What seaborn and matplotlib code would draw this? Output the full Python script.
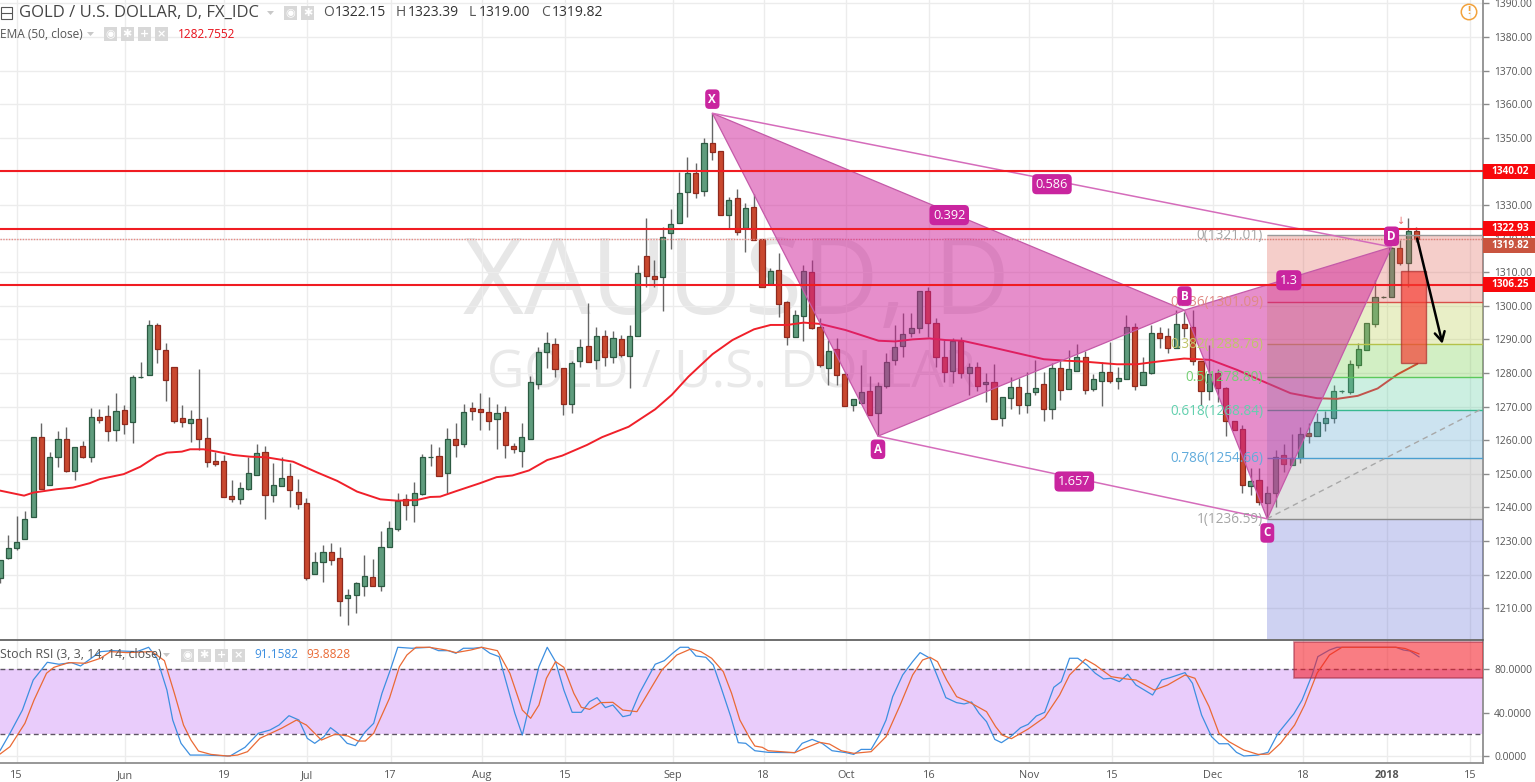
import numpy as np
import pandas as pd
import seaborn as sns
import matplotlib
matplotlib.use('Agg')
import matplotlib.pyplot as plt
from matplotlib.patches import Rectangle, Polygon

# daily candles
candle_open = [1218.9,1224.8,1227.8,1230.6,1237,1260.9,1246.7,1255.1,1260.3,1250.9,
    1258.3,1255.1,1266.8,1267.1,1262.9,1268.9,1265.5,1278.7,1279.4,1294.2,
    1286.8,1281.7,1266.5,1265.2,1266.2,1260.6,1253.8,1253.7,1243.5,1242.5,
    1245.4,1249.7,1256.6,1243.8,1246.5,1249.2,1244.7,1241.2,1220.2,1223.8,
    1226.6,1224.9,1212.9,1214,1216.7,1219.2,1216.7,1228.3,1233.5,1242.4,
    1240.8,1244,1255,1255.3,1250.2,1260.3,1258.9,1269.5,1269.2,1268.5,
    1266.4,1268.3,1258.4,1256.9,1260.5,1276.8,1286.3,1288.7,1281.5,1270.8,
    1283.7,1288,1284,1291.1,1284.7,1290.1,1285.1,1291,1314.7,1309,
    1308.7,1321.6,1324.7,1334,1339.4,1334.3,1348.6,1346.2,1327.1,1332,
    1323.2,1329.3,1319.8,1306.5,1310.8,1301.1,1290.6,1297,1310.2,1293.8,
    1281.6,1287,1279.7,1270.6,1271.2,1274.7,1268,1276.2,1283.9,1287.9,
    1292,1293.3,1304.5,1294.8,1284.9,1280.7,1289.6,1279.9,1281.9,1276.6,
    1277.2,1266.7,1272.6,1275.8,1270.6,1274.3,1276.6,1269.3,1281.6,1275.2,
    1280.6,1284.9,1275.2,1277.7,1280.2,1277.7,1278.3,1293.6,1276.5,1280.1,
    1291.8,1291,1287.5,1294.5,1293.6,1283.6,1274.5,1279.9,1275.4,1265.7,
    1263.2,1246.5,1248.2,1241.4,1244.2,1255.5,1252.6,1254.8,1262,1261.3,
    1265,1266.5,1274.5,1274.3,1282.4,1286.9,1294.6,1302.6,1302.5,1317.1,
    1312.7,1322.15]
candle_high = [1224.4,1231.8,1237.3,1239,1260.9,1265,1256.4,1262.6,1263.9,1257.9,
    1259.9,1269.5,1269.2,1270.4,1274,1270.5,1279.4,1283.4,1295.8,1294.8,
    1288.9,1281.7,1270.4,1269,1281.1,1266.8,1256.6,1255.6,1248.2,1247.7,
    1254.9,1258.9,1258.3,1253.1,1254.9,1253.1,1248.4,1242.7,1226.7,1228.7,
    1229.3,1228.3,1215.6,1217.9,1225.9,1224.6,1233,1236.1,1244.4,1244,
    1247.5,1255.8,1258.9,1258.1,1263.6,1265.2,1270.8,1271.4,1274,1272.8,
    1270.8,1270.2,1259.1,1265,1279,1287.8,1292.1,1290.3,1281.5,1283.7,
    1290,1300.7,1293.8,1292.8,1292.6,1291.3,1294.3,1312.1,1326,1313.6,
    1323.5,1328.7,1339.9,1344.2,1342.4,1349.8,1357.3,1346.2,1332.3,1334.7,
    1330.7,1333.3,1319.8,1311.2,1315.8,1301.5,1298.7,1312.1,1313.6,1296.3,
    1289.8,1290.3,1280.4,1272.2,1282.4,1279.1,1277.4,1285.9,1294.3,1297.8,
    1297.8,1304.5,1305.7,1296.3,1289.8,1290.3,1290.8,1283.1,1283.4,1280.1,
    1282.7,1272.8,1278.9,1278.4,1280.4,1283.9,1280.4,1282.9,1283.9,1286.9,
    1288.5,1286.4,1279.7,1283.4,1289.3,1281.9,1297.3,1294.8,1284.9,1294.3,
    1293.8,1293.3,1298.8,1298.3,1298.8,1283.6,1288.3,1281.1,1275.9,1265.7,
    1264.5,1251.6,1251.6,1246.4,1257.1,1258.9,1261.9,1263.8,1265.2,1268,
    1268.8,1276.4,1275,1283.9,1288.8,1294.8,1307.7,1302.9,1317.6,1319.6,
    1326,1323.39]
candle_low = [1217.4,1224.7,1227.3,1230.6,1237,1245.4,1246.7,1252.1,1250.5,1248.2,
    1254.6,1253.6,1265.2,1259.9,1259.9,1261.9,1259.3,1278.4,1279.4,1283.1,
    1271.8,1265,1264,1259.6,1257.1,1252,1252.2,1243.2,1241.7,1241,
    1245.2,1249.7,1236.6,1241.7,1246.5,1240.2,1239.6,1218.4,1220.2,1217.9,
    1222.9,1207.7,1205,1208.5,1213.7,1216.7,1215.2,1228.3,1233.1,1236.3,
    1235.8,1243.7,1252.4,1249.4,1244.4,1254.9,1257.9,1266,1262.9,1263.1,
    1257.3,1254.6,1256.1,1251.9,1260.5,1275.2,1281.6,1278.7,1267.5,1268.2,
    1281.9,1283.4,1281.1,1282.2,1282.9,1284.7,1275.4,1291,1305.5,1305.5,
    1298.5,1316.8,1324.7,1326.5,1332,1332.8,1343.4,1327,1323,1321,
    1316.1,1319.6,1305.5,1306.5,1296.6,1288.3,1290.6,1289.6,1293,1281.9,
    1276.4,1276.4,1270.2,1268.8,1271.2,1267.5,1261.3,1275.5,1282.4,1284.9,
    1290.6,1291.8,1290.8,1281.7,1277.4,1276.9,1278.4,1273.5,1274.5,1271.5,
    1266.4,1264.1,1269.2,1267.8,1268,1273.5,1265.7,1266.3,1272,1275.2,
    1280.6,1273.8,1274.5,1270.2,1277.1,1275.1,1278.3,1274.8,1276.5,1279.7,
    1287.4,1286.1,1287.8,1290.8,1282.4,1270.5,1272,1271.5,1261.3,1263,
    1244.2,1243.7,1240.7,1236.8,1240.2,1250.6,1252.6,1253.1,1259.3,1261.3,
    1262.8,1265,1274.1,1273.8,1281.4,1286.9,1293.8,1302.3,1302.5,1312.2,
    1305.7,1319.0]
candle_close = [1224.4,1227.8,1229.6,1236.5,1260.9,1245.4,1254.9,1260.3,1250.7,1257.9,
    1255.1,1266.8,1266,1262.6,1268.6,1264.8,1278.7,1278.9,1294.2,1287,
    1278,1265.8,1265.5,1266.2,1260.5,1253.6,1253,1243.2,1242.5,1245.9,
    1250.2,1256.3,1243.8,1246.6,1248.7,1245.2,1241,1219.1,1223.7,1226.6,
    1224.4,1212.2,1213.9,1217.4,1219.7,1216.7,1228.3,1233.8,1242,1240.8,
    1244.2,1254.9,1255,1249.4,1260.3,1258.6,1268.5,1268.8,1268.5,1265.8,
    1268,1258.5,1257.3,1260.9,1277.2,1286.2,1288.9,1281.3,1270.8,1282.9,
    1287.7,1283.4,1290.9,1284.7,1290.3,1285.4,1291.1,1309.7,1309,1308.1,
    1320.6,1324.3,1333.5,1339.4,1333.7,1348.6,1345.9,1327,1331.5,1322,
    1329,1319.6,1305.7,1310.5,1300.5,1290.6,1297.2,1310.5,1293.3,1282.3,
    1286.6,1279.4,1270.2,1272.2,1274.2,1267.5,1276.2,1283.3,1287.8,1291.5,
    1293.3,1304.5,1294.8,1284.7,1280.4,1289.6,1279.9,1281.9,1276,1277.2,
    1266.4,1272.8,1275.8,1270.5,1274,1275.4,1269.3,1281.4,1274.9,1281.1,
    1284.9,1274.9,1278.1,1280.2,1277.6,1278.4,1293.6,1276.2,1280.2,1291.8,
    1290.5,1287.4,1294.5,1293.5,1283.6,1274.5,1279.7,1275.6,1265.8,1263,
    1246.7,1248,1241.7,1244.2,1255.1,1252.8,1254.8,1261.8,1261.3,1265.3,
    1266.5,1274.5,1274.6,1282.6,1287.1,1294.8,1302.5,1302.7,1317.1,1312.7,
    1322.3,1319.82]

# EMA 50, sampled along the curve
ema_bar = [0,2.9,4,6.8,8.8,10.8,12,14.9,16.9,18.9,20.1,21.9,22.9,24.5,26.1,28.1,30.1,32.1,
    35.3,38.2,40.6,43,45.8,47.8,50.2,51.8,53,55,57.8,59.8,61.7,63.7,65.9,67.7,70.7,72.5,
    75.7,78.9,80.9,82.9,85.8,88.2,90.8,92.8,94.8,96.8,98.8,101.8,105.8,107.8,109.9,111.9,
    113.9,115.9,119.9,123.4,125.7,128.1,130.5,134.5,136.9,139.4,142.6,145.8,149,152.2,
    155.4,158.6,161,163.5,165.9,168.3,170.7]
ema_val = [1245,1243.5,1244.4,1245.4,1245.9,1247.2,1248.4,1249.9,1252.1,1255.3,1256.3,1256.6,
    1257.3,1257.3,1256.6,1255.6,1255.1,1254.9,1253.6,1250.4,1247.9,1244.7,1242.4,1242,
    1242.2,1243.1,1243.2,1244.9,1247.2,1249,1249.5,1251,1254.1,1255.4,1258.6,1260.9,
    1264,1269.2,1273.5,1278.9,1285.6,1289.8,1293,1294.3,1294.3,1295,1294.6,1292.8,1289.6,
    1289.4,1290,1290.3,1289.8,1289.6,1287.4,1285.4,1284.1,1283.7,1283.4,1282.6,1282.6,
    1283.4,1284.3,1283.9,1280.9,1277.4,1274,1272.5,1272.3,1273.2,1275.4,1279.6,1282.76]

# Stoch RSI
k_bar = [0,1.2,2.7,4,5.7,7.1,8.6,9.7,12.1,13.6,16.5,17.9,18.9,20.1,20.8,21.8,22.9,24.8,27.7,
    29.5,31.1,32.5,33.6,34.8,36,37,37.9,39,39.8,40.7,41.8,42.8,44,45,46,47,47.9,49.6,51.8,
    52.8,54,54.9,55.8,57,58,59,60.1,61.1,62,62.9,64,64.9,65.9,66.9,67.9,68.9,70,71,71.9,
    72.9,73.8,75,75.9,77,78.9,80,81,81.9,82.9,83.8,85,85.9,86.8,88,88.9,89.8,90.9,92.5,
    95.7,96.6,97.8,99,100.2,101.9,102.8,103.7,104.9,105.8,106.7,107.5,108.7,109.9,110.8,
    112,112.9,113.9,115.2,116.1,117,117.9,118.8,119.8,120.6,121.7,122.9,123.8,124.8,125.8,
    126.9,127.8,128.8,129.8,130.9,131.9,132.9,133.8,134.8,135.8,136.8,138.8,139.9,140.9,
    142.7,143.6,144.7,145.9,146.8,147.9,148.9,149.8,151.5,152.7,153.9,155.8,156.8,158,
    158.7,160.1,161,168.1,169,169.8,170.9]
k_val = [4.9,20.9,42.3,69.9,86.2,84.4,85.9,82.8,96,96.9,96,100,89.9,60.7,33.1,11.7,0.9,0.9,0,
    8,20.9,23.9,28.5,37.1,33.1,16.3,11.7,17.8,26.1,20.9,11.7,9.5,22.4,30.1,57.7,79.1,100,
    99.1,100,96.9,96.9,94.5,99.1,99.1,100,94.5,91.4,63.8,39.3,19.3,54.6,82.2,100,86.8,60.7,
    40.2,40.2,50,53.7,44.5,46.9,36.2,37.7,57.7,84.4,87.7,94.5,100,100,92,90.8,83.7,63.8,
    36.2,12.3,11.7,4.9,3.4,3.1,11.7,15.3,11.7,4.9,3.1,1.5,6.1,6.1,17.8,33.1,54.6,74.5,86.8,
    95.1,89.9,73,53.7,49.1,47.9,49.7,39.3,31.6,15.3,12.3,17.8,26.1,29.1,36.8,40.2,63.2,68.4,
    89.9,89.9,83.7,76.1,70.9,71.5,68.4,75.2,65.3,56.1,69.9,72.1,76.7,66.9,37.7,17.8,11.3,
    11.3,3.4,0,0.9,3.4,20.9,38.7,51.5,74.5,91.4,97.5,100,100,97.5,96.6,91.16]
d_bar = [0,1.2,3,4.1,5.6,6.5,8.3,10.3,12.1,13.3,15.3,18.3,19.8,21,22.1,23,23.9,25.4,27.4,28.6,
    29.8,31.3,33.9,35.7,36.9,38.7,40.4,41.9,43.1,44,45,46.9,48.1,49,50.1,51.7,53.7,54.9,
    56.7,58,59.9,61.4,62.9,63.9,64.9,65.8,66.9,67.9,69.1,70,71,72.3,73.8,75,76.7,77.9,79.7,
    81.5,83.2,84.4,85.7,87.1,88.1,89.1,90.3,90.9,91.8,92.5,95.7,96.9,98.7,99.9,101.3,102.8,
    104.9,106.7,108.4,109.9,111.1,112,112.9,114,115.2,116.7,118.8,119.9,120.7,121.8,123.8,
    125.8,127.6,128.8,130.7,131.9,133.8,135.6,136.8,139,140.6,142.7,143.9,145.6,146.8,148,
    149.8,151.5,152.8,154.2,155.9,157.1,158.6,160.1,161.6,168.1,169.2,170.9]
d_val = [1.8,8.6,30.1,51.5,76.1,81.6,85.9,85.3,89.9,96,95.1,96,87.7,57.7,28.5,14.7,4.6,1.5,0,0.9,
    4,16.3,25.5,33.1,28.5,14.7,20.2,18.4,13.8,13.8,20.9,53.1,82.2,92.9,100,100,97.5,95.1,
    97.5,100,96.9,76.1,42.3,34.7,46.9,71.5,86.8,81.6,57.7,44.8,42.9,49.1,49.4,42.3,40.8,56.1,
    79.1,92.9,98.5,96,89.9,77.6,57.7,33.1,16.3,9.2,8,4.9,3.1,7.1,12.6,11,4.9,2.5,4,17.8,46.9,
    74.5,88.3,90.8,86.8,69.9,54.6,49.7,40.8,27,19.3,16,24.8,35.6,56.1,74.5,89,83.7,73,70.9,
    69.9,60.7,65.3,74.5,71.5,45.4,20.9,13.2,5.5,1.5,1.8,11.7,28.5,46.9,76.1,92.9,100,100,
    98.9,93.88]

# harmonic pattern pivots
pivot_names = ['X', 'A', 'B', 'C', 'D']
pivot_bar = [86, 106, 143, 153, 168]
pivot_price = [1357.3, 1261.2, 1298.7, 1236.6, 1317.5]

fib_ratio = ['0', '0.236', '0.382', '0.5', '0.618', '0.786', '1']
fib_price = [1321.01, 1301.09, 1288.76, 1278.80, 1268.84, 1254.66, 1236.59]
fib_line = ['#9a9a9a', '#d8504a', '#b4c24a', '#5cc85c', '#38b890', '#4a9fd0', '#8a8a8a']
fib_text = ['#a5a5a5', '#e08a85', '#c0c46a', '#74cf74', '#62d0ae', '#62acdc', '#a5a5a5']
fib_fill = ['#de5f52', '#b9cd48', '#6cca3e', '#58cd9e', '#58a5d0', '#9e9e9e', '#5f6cd4']
trend_end = 1269.5

level_price = [1340.02, 1322.93, 1306.25]

tick_bar = [2, 15.05, 27.1, 37.05, 47.15, 58.2, 68.2, 81.25, 92.2, 102.15, 112.15, 124.25,
            134.25, 146.4, 157.3, 167.45, 177.45]
tick_label = ['15', 'Jun', '19', 'Jul', '17', 'Aug', '15', 'Sep', '18', 'Oct', '16', 'Nov',
              '15', 'Dec', '18', '2018', '15']

W, H = 1535, 782
px = 8.283   # pixels per bar
# curve samples were read on a slightly wider bar grid
grid_fix = 8.304 / px

sns.set_theme(style='whitegrid', rc={'grid.color': '#ececec', 'grid.linewidth': 1.0})
plt.rcParams['font.family'] = ['Open Sans', 'DejaVu Sans']

df = pd.DataFrame({'open': candle_open, 'high': candle_high, 'low': candle_low, 'close': candle_close})
df['bar'] = df.index
up = df[df.close >= df.open]
down = df[df.close < df.open]

fig = plt.figure(figsize=(W / 100, H / 100), dpi=100)
ax = fig.add_axes([0, 1 - 639 / H, 1483 / W, 639 / H])
ax2 = fig.add_axes([0, 1 - 763 / H, 1483 / W, 123 / H])

for a in (ax, ax2):
    a.set_xlim(0, 1483 / px)
    a.yaxis.tick_right()
    a.set_xticks(tick_bar)
    a.set_axisbelow(True)
    a.patch.set_alpha(0)
    for s in ('top', 'left', 'bottom'):
        a.spines[s].set_visible(False)
    a.spines['right'].set_color('#8a8a8a')
    a.tick_params(axis='y', length=4, width=1, color='#8a8a8a', pad=4, labelsize=7.4, labelcolor='#555555')

ax.set_ylim(1330 - 434 / 3.36, 1330 + 205 / 3.36)
ax.set_yticks(np.arange(1210, 1391, 10))
ax.set_yticklabels(['%.2f' % v for v in np.arange(1210, 1391, 10)])
ax.tick_params(axis='x', length=0, labelbottom=False)

# watermark sits behind both panels
fig.text(737 / W, 1 - 286 / H, 'XAUUSD, D', fontsize=76, color='#e7e7e7', ha='center', va='center', zorder=-1)
fig.text(731 / W, 1 - 374 / H, 'GOLD / U.S. DOLLAR', fontsize=37, color='#e9e9e9', ha='center', va='center', zorder=-1)

# candles
for part, fill, edge in ((up, '#5f9c7d', '#2c5a42'), (down, '#c9482f', '#8f2a1e')):
    ax.vlines(part.bar, part.low, part.high, color='#666666', lw=1, zorder=2)
    ax.bar(part.bar, (part.close - part.open).abs(), bottom=part[['open', 'close']].min(axis=1),
           width=0.62, color=fill, edgecolor=edge, linewidth=0.9, zorder=3)

sns.lineplot(x=np.array(ema_bar) * grid_fix, y=ema_val, ax=ax, color='#f0202a', lw=1.4,
             estimator=None, sort=False, zorder=4, legend=False)

# fib retracement block
x0 = pivot_bar[3] - 0.05
x1 = 1483 / px
lows = fib_price[1:] + [ax.get_ylim()[0]]
for top, bot, col in zip(fib_price, lows, fib_fill):
    ax.add_patch(Rectangle((x0, bot), x1 - x0, top - bot, color=col, alpha=0.3, lw=0, zorder=5))
for name, price, lc, tc in zip(fib_ratio, fib_price, fib_line, fib_text):
    ax.hlines(price, x0, x1, color=lc, lw=1, zorder=5.2)
    ax.text(x0 - 0.45, price - 0.2, '%s(%.2f)' % (name, price), color=tc, fontsize=9.8, ha='right',
            va='center', zorder=6.5)
ax.plot([x0, x1], [fib_price[-1], trend_end], color='#a8a8a8', lw=1, ls=(0, (4, 3)), zorder=5.2)

# pattern
pink = '#cf1f98'
xy = list(zip(pivot_bar, pivot_price))
for tri in (xy[:3], xy[2:]):
    ax.add_patch(Polygon(tri, closed=True, facecolor=pink, alpha=0.5, edgecolor='none', zorder=6))
    ax.add_patch(Polygon(tri, closed=True, fill=False, edgecolor='#c45aa8', lw=0.9, zorder=6))
for i, j in ((0, 4), (1, 3)):
    ax.plot([pivot_bar[i], pivot_bar[j]], [pivot_price[i], pivot_price[j]], color='#d56cbb', lw=1.1, zorder=6)

box = dict(boxstyle='round,pad=0.28,rounding_size=0.35', fc='#c9259f', ec='none')
label_off = [4.2, -3.9, 4.2, -4.2, 3.2]
for n, b, p, off in zip(pivot_names, pivot_bar, pivot_price, label_off):
    ax.text(b, p + off, n, color='white', fontsize=8.4, fontweight='bold', ha='center', va='center', bbox=box, zorder=9)
ratio_text = ['0.586', '0.392', '1.3', '1.657']
ratio_bar = [127, 114.6, 155.6, 129.7]
ratio_price = [1336.2, 1327, 1307.6, 1247.7]
for t, b, p in zip(ratio_text, ratio_bar, ratio_price):
    ax.text(b, p, t, color='white', fontsize=9.2, ha='center', va='center', bbox=box, zorder=9)

# levels
ax.hlines(level_price, 0, x1, color='#f01c22', lw=1.5, zorder=7)
ax.axhline(candle_close[-1], color='#e88a85', lw=1, ls=(0, (1, 1)), zorder=4)

# short setup box and arrow
ax.add_patch(Rectangle((169.1, 1282.9), 3.0, 27.6, facecolor='#f53a30', alpha=0.68, edgecolor='#a92a2a', lw=1, zorder=8))
ax.annotate('', xy=(174.15, 1288.7), xytext=(171.1, 1320), zorder=10,
            arrowprops=dict(arrowstyle='->,head_length=0.55,head_width=0.3', color='black', lw=1.8, shrinkA=0, shrinkB=0))
ax.text(169.1, 1325.3, '↓', color='#e86a6a', fontsize=7, ha='center', va='center', family='DejaVu Sans', zorder=9)

# price tags
trans = ax.get_yaxis_transform()
tags = [(1340.02, 1340.02, '#f8080c'), (1317.9, 1319.82, '#c9543f'), (1306.25, 1306.25, '#f8080c'), (1322.93, 1322.93, '#f8080c')]
for pos, val, col in tags:
    ax.add_patch(Rectangle((1.0, pos - 2.25), 52 / 1483, 4.5, transform=trans, color=col, clip_on=False, lw=0, zorder=11))
    ax.text(1 + 8 / 1483, pos, '%.2f' % val, transform=trans, color='white', fontsize=7.3, fontweight='bold', va='center', zorder=12)

# stoch panel
ax2.set_ylim(-6.4, 106.7)
ax2.set_yticks([0, 40, 80])
ax2.set_yticklabels(['0.0000', '40.0000', '80.0000'])
ax2.axhspan(20, 80, color='#e9ccfb', lw=0, zorder=1)
for lev in (20, 80):
    ax2.axhline(lev, color='#5f5565', lw=1, ls=(0, (3.5, 2.5)), zorder=2)
sns.lineplot(x=np.array(k_bar) * grid_fix, y=k_val, ax=ax2, color='#3d8fe0', lw=0.9, estimator=None, sort=False, zorder=3, legend=False)
sns.lineplot(x=np.array(d_bar) * grid_fix, y=d_val, ax=ax2, color='#ea6a35', lw=0.9, estimator=None, sort=False, zorder=3, legend=False)
ax2.add_patch(Rectangle((1293.9 / px, 71.7), (1484 - 1293.9) / px, 32.8, facecolor='#f51f2a', alpha=0.58, edgecolor='#a0304a', lw=1.2, zorder=4))
ax2.set_xticklabels(tick_label)
ax2.tick_params(axis='x', length=3, width=1, color='#8a8a8a', pad=2, labelsize=7.8, labelcolor='#555555')
for lab in ax2.get_xticklabels():
    if lab.get_text() == '2018':
        lab.set_fontweight('bold')
ax2.spines['bottom'].set_visible(True)
ax2.spines['bottom'].set_color('#8a8a8a')

# panel separator and header text, placed by pixel
def fx(x):
    return x / W

def fy(y):
    return 1 - y / H

fig.add_artist(plt.Line2D([0, 1483 / W], [fy(639.5)] * 2, color='#555555', lw=1.2))

def label(x, y, s, size=8.2, color='#555555', **kw):
    fig.text(fx(x), fy(y), s, fontsize=size, color=color, va='center', zorder=20, **kw)

def icons(x, y, marks):
    for i, m in enumerate(marks):
        fig.add_artist(Rectangle((fx(x + i * 17), fy(y + 6.5)), 13 / W, 13 / H, color='#d8d8d8', lw=0, transform=fig.transFigure))
        fig.text(fx(x + i * 17 + 6.5), fy(y), m, fontsize=8, color='white', ha='center', va='center', family='DejaVu Sans', fontweight='bold', zorder=21)

def caret(x, y):
    fig.add_artist(Polygon([(fx(x), fy(y - 2)), (fx(x + 7), fy(y - 2)), (fx(x + 3.5), fy(y + 2))], color='#c8c8c8', lw=0, transform=fig.transFigure))

fig.add_artist(Rectangle((fx(1), fy(19)), 11 / W, 12 / H, fill=False, edgecolor='#555555', lw=0.8, transform=fig.transFigure))
fig.add_artist(plt.Line2D([fx(1), fx(12)], [fy(13)] * 2, color='#555555', lw=0.8))
label(19, 13, 'GOLD / U.S. DOLLAR, D, FX_IDC', size=12, color='#444444')
caret(267, 13)
icons(284, 13, ['◉', '✱'])
for x, s in ((323, 'O'), (396, 'H'), (469, 'L'), (541, 'C')):
    label(x, 13, s, size=10, color='#555555')
for x, s in ((335, '1322.15'), (408, '1323.39'), (479, '1319.00'), (552, '1319.82')):
    label(x, 13, s, size=10, color='#333333')
label(0, 34, 'EMA (50, close)', size=8.6, color='#555555')
caret(87, 34)
icons(104, 34, ['◉', '✱', '+', '×'])
label(178, 34, '1282.7552', size=8.6, color='#e8101a')
label(0, 655, 'Stoch RSI (3, 3, 14, 14, close)', size=8.9, color='#555555')
caret(163, 655)
icons(181, 655, ['◉', '✱', '+', '×'])
label(254, 655, '91.1582', size=8.6, color='#3d8fe0')
label(306, 655, '93.8828', size=8.6, color='#ea6a35')

# warning badge
fig.text(fx(1469), fy(12), '!', fontsize=8, color='#f2a23c', ha='center', va='center', fontweight='bold', zorder=21,
         bbox=dict(boxstyle='circle,pad=0.2', fc='none', ec='#f2a23c', lw=1.1))

fig.savefig('out.png', dpi=100)
